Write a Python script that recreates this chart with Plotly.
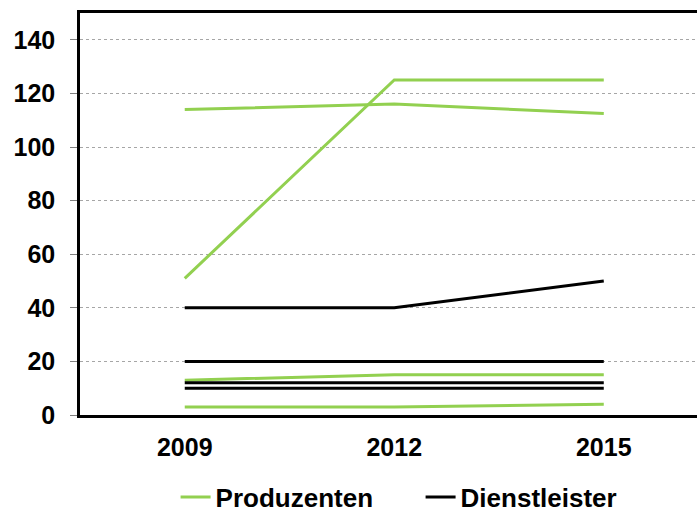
import plotly.graph_objects as go

years = ["2009", "2012", "2015"]

# Produzenten series (green)
produzenten = [
    [51, 125, 125],
    [114, 116, 112.5],
    [13, 15, 15],
    [3, 3, 4],
]

# Dienstleister series (black)
dienstleister = [
    [40, 40, 50],
    [20, 20, 20],
    [12, 12, 12],
    [10, 10, 10],
]

y_ticks = [0, 20, 40, 60, 80, 100, 120, 140]

GREEN = "#92D050"
BLACK = "#000000"
FONT = "Liberation Sans, Arial, sans-serif"

fig = go.Figure()

for i, vals in enumerate(produzenten):
    fig.add_trace(go.Scatter(
        x=years, y=vals, mode="lines",
        line=dict(color=GREEN, width=3),
        name="Produzenten", legendgroup="p", showlegend=(i == 0),
    ))

for i, vals in enumerate(dienstleister):
    fig.add_trace(go.Scatter(
        x=years, y=vals, mode="lines",
        line=dict(color=BLACK, width=3),
        name="Dienstleister", legendgroup="d", showlegend=(i == 0),
    ))

fig.update_layout(
    width=697, height=514,
    margin=dict(l=80, r=0, t=13, b=99),
    paper_bgcolor="white", plot_bgcolor="white",
    font=dict(family=FONT, size=25, color="black"),
    showlegend=True,
    legend=dict(
        orientation="h", x=0.552, xanchor="center",
        yref="container", y=0.033, yanchor="middle",
        font=dict(family=FONT, size=26, color="black", weight="bold"),
        traceorder="normal", itemwidth=30, entrywidth=200,
    ),
    xaxis=dict(
        type="category", range=[-0.5, 2.445],
        showline=True, linecolor=BLACK, linewidth=3, mirror=True,
        showgrid=False, ticks="", ticklabelstandoff=8,
        tickfont=dict(family=FONT, size=25, color="black", weight="bold"),
    ),
    yaxis=dict(
        range=[0, 150], tickvals=y_ticks,
        showline=True, linecolor=BLACK, linewidth=2.5, mirror=False,
        showgrid=True, gridcolor="#A6A6A6", gridwidth=1, griddash="3px,3px",
        zeroline=False,
        ticks="outside", ticklen=7, tickcolor="#808080", tickwidth=1,
        ticklabelstandoff=10,
        tickfont=dict(family=FONT, size=25, color="black", weight="bold"),
    ),
)

fig.write_html("out.html")
